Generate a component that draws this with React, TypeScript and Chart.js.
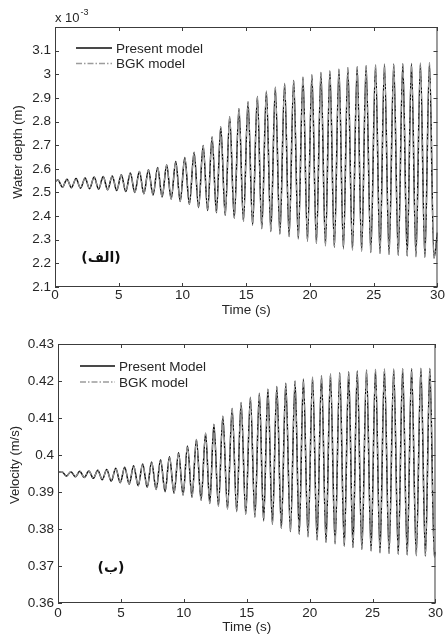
import React, { useEffect, useRef } from 'react';
import { Chart, registerables } from 'chart.js';

Chart.register(...registerables);

const FONT = '"Liberation Sans", Arial, Helvetica, sans-serif';
const TEXT = '#262626';

// ---- axis ticks ----
const timeTicks = [0, 5, 10, 15, 20, 25, 30];
const depthTicks = [2.1, 2.2, 2.3, 2.4, 2.5, 2.6, 2.7, 2.8, 2.9, 3.0, 3.1];
const velocityTicks = [0.36, 0.37, 0.38, 0.39, 0.4, 0.41, 0.42, 0.43];

// ---- series names ----
const depthSeriesNames = ['Present model', 'BGK model'];
const velocitySeriesNames = ['Present Model', 'BGK model'];

// ---- water depth (x 10^-3 m): start / end samples and the extrema of each cycle ----
const depthEdgeTimes = [0, 30];
const depthEdgeValues = [2.545, 2.33];
const depthPeakTimes = [
  0.23, 0.94, 1.65, 2.36, 3.07, 3.78, 4.49, 5.2, 5.91, 6.62, 7.33, 8.05, 8.76, 9.47,
  10.18, 10.91, 11.62, 12.32, 13.0, 13.7, 14.43, 15.14, 15.87, 16.58, 17.28, 18.01,
  18.72, 19.45, 20.15, 20.86, 21.56, 22.27, 22.97, 23.7, 24.4, 25.14, 25.84, 26.57,
  27.28, 27.96, 28.66, 29.37,
];
const depthPeaks = [
  2.553, 2.556, 2.559, 2.561, 2.565, 2.567, 2.57, 2.575, 2.582, 2.589, 2.596, 2.606, 2.616, 2.631,
  2.648, 2.67, 2.699, 2.735, 2.778, 2.82, 2.855, 2.884, 2.906, 2.928, 2.945, 2.961,
  2.974, 2.987, 2.998, 3.007, 3.014, 3.021, 3.028, 3.032, 3.036, 3.039, 3.042, 3.043,
  3.045, 3.046, 3.047, 3.049,
];
const depthTroughTimes = [
  0.58, 1.29, 2.0, 2.71, 3.42, 4.13, 4.84, 5.55, 6.26, 6.97, 7.69, 8.4, 9.11, 9.82,
  10.54, 11.26, 11.97, 12.66, 13.35, 14.06, 14.78, 15.5, 16.22, 16.93, 17.64, 18.36,
  19.08, 19.8, 20.5, 21.21, 21.91, 22.62, 23.33, 24.05, 24.77, 25.49, 26.2, 26.92,
  27.62, 28.31, 29.01, 29.72,
];
const depthTroughs = [
  2.522, 2.52, 2.518, 2.516, 2.514, 2.511, 2.508, 2.504, 2.5, 2.495, 2.489, 2.481, 2.472, 2.462,
  2.45, 2.436, 2.424, 2.414, 2.403, 2.391, 2.378, 2.362, 2.347, 2.335, 2.324, 2.314,
  2.304, 2.294, 2.285, 2.275, 2.268, 2.262, 2.257, 2.252, 2.246, 2.242, 2.238, 2.234,
  2.231, 2.228, 2.226, 2.223,
];

// ---- velocity (m/s) ----
const velocityEdgeTimes = [0, 30];
const velocityEdgeValues = [0.3953, 0.3738];
const velocityPeakTimes = [
  0.31, 1.02, 1.73, 2.45, 3.16, 3.87, 4.59, 5.3, 6.01, 6.73, 7.44, 8.15, 8.86, 9.58,
  10.29, 11.0, 11.73, 12.39, 13.1, 13.84, 14.55, 15.29, 16.0, 16.68, 17.39, 18.1,
  18.84, 19.5, 20.23, 20.94, 21.65, 22.39, 23.1, 23.78, 24.52, 25.23, 25.94, 26.68,
  27.39, 28.1, 28.84, 29.55,
];
const velocityPeaks = [
  0.3955, 0.3955, 0.3956, 0.3957, 0.3959, 0.3961, 0.3964, 0.3967, 0.3971, 0.3976, 0.3981, 0.3987, 0.3995, 0.4006,
  0.4024, 0.4042, 0.4059, 0.4083, 0.4105, 0.4126, 0.4142, 0.4156, 0.4167, 0.4178, 0.4185, 0.4194,
  0.42, 0.4205, 0.421, 0.4214, 0.4219, 0.4222, 0.4225, 0.4227, 0.423, 0.4231, 0.4232, 0.4232,
  0.4233, 0.4233, 0.4234, 0.4234,
];
const velocityTroughTimes = [
  0.67, 1.38, 2.09, 2.81, 3.52, 4.23, 4.95, 5.66, 6.37, 7.09, 7.8, 8.51, 9.22, 9.94,
  10.65, 11.37, 12.06, 12.75, 13.47, 14.2, 14.92, 15.65, 16.34, 17.04, 17.75, 18.47,
  19.17, 19.87, 20.59, 21.3, 22.02, 22.75, 23.44, 24.15, 24.88, 25.59, 26.31, 27.04,
  27.75, 28.47, 29.2, 29.91,
];
const velocityTroughs = [
  0.3943, 0.3941, 0.3939, 0.3937, 0.3933, 0.3929, 0.3925, 0.3921, 0.3917, 0.3913, 0.3907, 0.3901, 0.3897, 0.3892,
  0.3886, 0.3878, 0.3869, 0.3862, 0.3854, 0.3847, 0.384, 0.3832, 0.3822, 0.3813, 0.3802, 0.3793,
  0.3786, 0.3779, 0.377, 0.3764, 0.376, 0.3754, 0.375, 0.3745, 0.3741, 0.3736, 0.3734, 0.3732,
  0.373, 0.3728, 0.3727, 0.3725,
];

function buildPoints(
  edgeT: number[], edgeV: number[], pT: number[], pV: number[], tT: number[], tV: number[],
) {
  const pts: { x: number; y: number }[] = [];
  edgeT.forEach((t, i) => pts.push({ x: t, y: edgeV[i] }));
  pT.forEach((t, i) => pts.push({ x: t, y: pV[i] }));
  tT.forEach((t, i) => pts.push({ x: t, y: tV[i] }));
  pts.sort((a, b) => a.x - b.x);
  return pts;
}

const framePlugin = {
  id: 'frame',
  afterDatasetsDraw(chart: any, _args: any, opts: any) {
    const { ctx, chartArea: a, scales } = chart;
    ctx.save();
    ctx.strokeStyle = '#3c3c3c';
    ctx.lineWidth = 1;
    ctx.strokeRect(a.left + 0.5, a.top + 0.5, a.right - a.left - 1, a.bottom - a.top - 1);
    const tl = 4;
    ctx.beginPath();
    opts.xTicks.forEach((v: number) => {
      const x = Math.round(scales.x.getPixelForValue(v)) + 0.5;
      ctx.moveTo(x, a.bottom);
      ctx.lineTo(x, a.bottom - tl);
      ctx.moveTo(x, a.top);
      ctx.lineTo(x, a.top + tl);
    });
    opts.yTicks.forEach((v: number) => {
      const y = Math.round(scales.y.getPixelForValue(v)) + 0.5;
      ctx.moveTo(a.left, y);
      ctx.lineTo(a.left + tl, y);
      ctx.moveTo(a.right, y);
      ctx.lineTo(a.right - tl, y);
    });
    ctx.stroke();

    // legend (no box)
    const lg = opts.legend;
    chart.data.datasets.forEach((ds: any, i: number) => {
      const y = lg.y + i * lg.gap;
      ctx.save();
      ctx.strokeStyle = ds.borderColor;
      ctx.lineWidth = ds.borderWidth + 0.2;
      ctx.setLineDash(ds.borderDash || []);
      ctx.beginPath();
      ctx.moveTo(lg.x, y);
      ctx.lineTo(lg.x + lg.len, y);
      ctx.stroke();
      ctx.restore();
      ctx.fillStyle = TEXT;
      ctx.font = `13.5px ${FONT}`;
      ctx.textAlign = 'left';
      ctx.textBaseline = 'middle';
      ctx.fillText(ds.label, lg.x + lg.len + 4, y + 1);
    });

    // y axis title
    const yt = opts.yTitle;
    ctx.save();
    ctx.translate(yt.x, yt.y);
    ctx.rotate(-Math.PI / 2);
    ctx.fillStyle = TEXT;
    ctx.font = `13px ${FONT}`;
    ctx.textAlign = 'center';
    ctx.textBaseline = 'middle';
    ctx.fillText(yt.text, 0, 0);
    ctx.restore();

    // panel tag
    const tag = opts.tag;
    ctx.fillStyle = '#111';
    ctx.font = `bold 14px "DejaVu Sans", ${FONT}`;
    ctx.textAlign = 'center';
    ctx.textBaseline = 'middle';
    ctx.fillText(tag.text, tag.x, tag.y);

    // exponent marker
    if (opts.exponent) {
      const e = opts.exponent;
      ctx.textAlign = 'left';
      ctx.textBaseline = 'alphabetic';
      ctx.fillStyle = TEXT;
      ctx.font = `13px ${FONT}`;
      ctx.fillText('x 10', e.x, e.y);
      const w = ctx.measureText('x 10').width;
      ctx.font = `9px ${FONT}`;
      ctx.fillText(e.power, e.x + w + 1, e.y - 7);
    }
    ctx.restore();
  },
};

function makeConfig(opts: {
  points: { x: number; y: number }[];
  names: string[];
  yMin: number; yMax: number; yTicks: number[];
  yFmt: (v: number) => string;
  padTop: number; yWidth: number; xHeight: number;
  xLabelPad: number; xTitlePad: number;
  legend: any; tag: any; yTitle: any; exponent?: any;
}) {
  const tickFont = { family: FONT, size: 13.5, lineHeight: 1 };
  return {
    type: 'line' as const,
    data: {
      datasets: [
        {
          label: opts.names[0], data: opts.points, borderColor: '#0c0c0c', borderWidth: 1.5,
          pointRadius: 0, cubicInterpolationMode: 'monotone', fill: false, order: 1,
        },
        {
          label: opts.names[1], data: opts.points, borderColor: '#9c9c9c', borderWidth: 1.1,
          borderDash: [6, 2, 1.5, 2], pointRadius: 0, cubicInterpolationMode: 'monotone',
          fill: false, order: 0,
        },
      ],
    },
    options: {
      responsive: false,
      animation: false,
      events: [],
      layout: { padding: { left: 0, right: 9, top: opts.padTop, bottom: 0 } },
      plugins: {
        legend: { display: false },
        tooltip: { enabled: false },
        frame: {
          xTicks: timeTicks, yTicks: opts.yTicks, legend: opts.legend, tag: opts.tag,
          exponent: opts.exponent, yTitle: opts.yTitle,
        },
      },
      scales: {
        x: {
          type: 'linear', min: 0, max: 30,
          afterBuildTicks: (s: any) => { s.ticks = timeTicks.map((v) => ({ value: v })); },
          afterFit: (s: any) => { s.height = opts.xHeight; },
          grid: { display: false, drawTicks: false }, border: { display: false },
          ticks: {
            font: tickFont, color: TEXT, padding: opts.xLabelPad, maxRotation: 0, autoSkip: false,
            callback: (v: any) => String(v),
          },
          title: {
            display: true, text: 'Time (s)', color: TEXT,
            font: { family: FONT, size: 13.5, lineHeight: 1 },
            padding: { top: 0, bottom: opts.xTitlePad },
          },
        },
        y: {
          type: 'linear', min: opts.yMin, max: opts.yMax,
          afterBuildTicks: (s: any) => { s.ticks = opts.yTicks.map((v) => ({ value: v })); },
          afterFit: (s: any) => { s.width = opts.yWidth; },
          grid: { display: false, drawTicks: false }, border: { display: false },
          ticks: {
            font: tickFont, color: TEXT, padding: 4, autoSkip: false,
            callback: (v: any) => opts.yFmt(Number(v)),
          },
          title: { display: false },
        },
      },
    },
    plugins: [framePlugin],
  };
}

export default function App() {
  const topRef = useRef<HTMLCanvasElement>(null);
  const botRef = useRef<HTMLCanvasElement>(null);

  useEffect(() => {
    const depthPts = buildPoints(depthEdgeTimes, depthEdgeValues, depthPeakTimes, depthPeaks, depthTroughTimes, depthTroughs);
    const velPts = buildPoints(velocityEdgeTimes, velocityEdgeValues, velocityPeakTimes, velocityPeaks, velocityTroughTimes, velocityTroughs);

    const top = new Chart(topRef.current as any, makeConfig({
      points: depthPts, names: depthSeriesNames,
      yMin: 2.1, yMax: 3.2, yTicks: depthTicks,
      yFmt: (v) => String(Number(v.toFixed(1))),
      padTop: 27, yWidth: 55, xHeight: 33, xLabelPad: 2, xTitlePad: 3,
      legend: { x: 76, y: 48, len: 36, gap: 15.5 },
      tag: { text: '(الف)', x: 101, y: 258 },
      yTitle: { text: 'Water depth (m)', x: 18, y: 152 },
      exponent: { x: 55, y: 22, power: '-3' },
    }) as any);

    const bot = new Chart(botRef.current as any, makeConfig({
      points: velPts, names: velocitySeriesNames,
      yMin: 0.36, yMax: 0.43, yTicks: velocityTicks,
      yFmt: (v) => String(Number(v.toFixed(2))),
      padTop: 24, yWidth: 58, xHeight: 31, xLabelPad: 4, xTitlePad: 0,
      legend: { x: 80, y: 46, len: 35, gap: 16 },
      tag: { text: '(ب)', x: 111, y: 248 },
      yTitle: { text: 'Velocity (m/s)', x: 15, y: 145 },
    }) as any);

    return () => { top.destroy(); bot.destroy(); };
  }, []);

  return (
    <div style={{ position: 'absolute', left: 0, top: 0, width: 447, height: 634, background: '#fff' }}>
      <canvas ref={topRef} width={447} height={320} style={{ position: 'absolute', left: 0, top: 0, display: 'block' }} />
      <canvas ref={botRef} width={447} height={314} style={{ position: 'absolute', left: 0, top: 320, display: 'block' }} />
    </div>
  );
}
